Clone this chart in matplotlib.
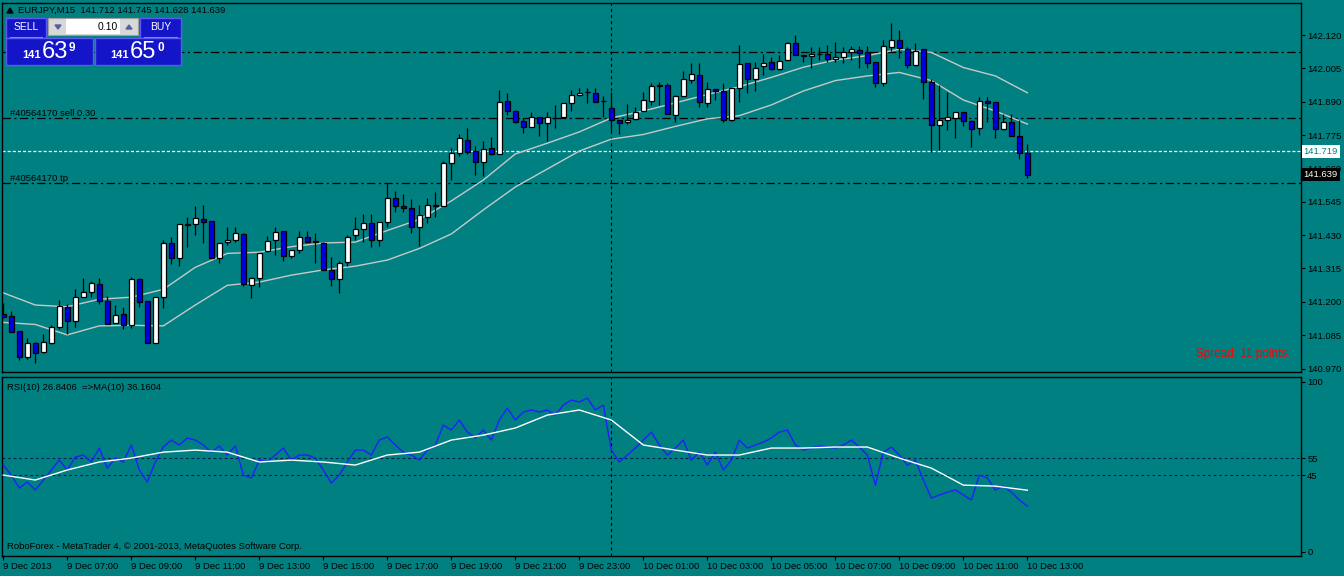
import matplotlib.pyplot as plt
from matplotlib.patches import Rectangle, Polygon

# ---- EURJPY M15, 9 Dec 05:00 .. 10 Dec 13:00 (129 bars) ----
opens = [141.158, 141.151, 141.099, 141.011, 141.057, 141.026, 141.059, 141.113, 141.183, 141.133,
         141.218, 141.233, 141.260, 141.202, 141.126, 141.157, 141.120, 141.278, 141.202, 141.057,
         141.216, 141.402, 141.350, 141.466, 141.467, 141.484, 141.478, 141.350, 141.405, 141.414,
         141.433, 141.257, 141.283, 141.376, 141.412, 141.443, 141.359, 141.378, 141.422, 141.409,
         141.404, 141.310, 141.280, 141.337, 141.429, 141.450, 141.471, 141.412, 141.474, 141.557,
         141.530, 141.522, 141.457, 141.493, 141.531, 141.531, 141.678, 141.712, 141.758, 141.720,
         141.683, 141.729, 141.709, 141.891, 141.859, 141.822, 141.802, 141.836, 141.816, 141.834,
         141.836, 141.885, 141.912, 141.922, 141.919, 141.893, 141.867, 141.827, 141.819, 141.829,
         141.859, 141.891, 141.945, 141.946, 141.843, 141.910, 141.964, 141.982, 141.886, 141.933,
         141.927, 141.827, 141.936, 142.022, 141.967, 142.013, 142.028, 142.002, 142.034, 142.091,
         142.050, 142.048, 142.055, 142.055, 142.036, 142.045, 142.062, 142.067, 142.062, 142.027,
         141.953, 142.080, 142.103, 142.071, 142.015, 142.071, 141.957, 141.809, 141.827, 141.835,
         141.853, 141.823, 141.798, 141.892, 141.888, 141.795, 141.819, 141.771, 141.712]
highs = [141.196, 141.168, 141.099, 141.076, 141.061, 141.088, 141.121, 141.206, 141.192, 141.244,
         141.283, 141.272, 141.281, 141.219, 141.189, 141.183, 141.284, 141.282, 141.202, 141.216,
         141.413, 141.424, 141.468, 141.491, 141.530, 141.534, 141.479, 141.403, 141.458, 141.458,
         141.436, 141.286, 141.368, 141.427, 141.457, 141.444, 141.379, 141.444, 141.444, 141.436,
         141.405, 141.353, 141.341, 141.430, 141.491, 141.503, 141.503, 141.475, 141.609, 141.582,
         141.571, 141.553, 141.534, 141.557, 141.578, 141.686, 141.729, 141.779, 141.798, 141.738,
         141.756, 141.767, 141.930, 141.919, 141.860, 141.833, 141.856, 141.837, 141.856, 141.879,
         141.885, 141.930, 141.936, 141.936, 141.936, 141.910, 141.922, 141.828, 141.882, 141.873,
         141.922, 141.953, 141.959, 141.953, 141.913, 141.996, 142.022, 142.022, 141.958, 141.934,
         141.953, 141.937, 142.086, 142.023, 142.028, 142.055, 142.045, 142.051, 142.096, 142.119,
         142.051, 142.080, 142.080, 142.086, 142.096, 142.080, 142.082, 142.082, 142.082, 142.028,
         142.103, 142.162, 142.137, 142.080, 142.091, 142.072, 141.967, 141.948, 141.924, 141.854,
         141.854, 141.827, 141.907, 141.907, 141.889, 141.847, 141.847, 141.827, 141.745]
lows = [141.144, 141.096, 140.999, 141.003, 140.988, 141.023, 141.054, 141.105, 141.089, 141.114,
        141.217, 141.216, 141.191, 141.122, 141.126, 141.105, 141.111, 141.181, 141.057, 141.057,
        141.180, 141.329, 141.325, 141.390, 141.430, 141.404, 141.350, 141.333, 141.395, 141.406,
        141.255, 141.214, 141.252, 141.373, 141.362, 141.342, 141.350, 141.369, 141.406, 141.333,
        141.310, 141.255, 141.231, 141.323, 141.413, 141.407, 141.390, 141.393, 141.457, 141.511,
        141.511, 141.438, 141.393, 141.473, 141.493, 141.531, 141.620, 141.703, 141.710, 141.637,
        141.634, 141.706, 141.709, 141.844, 141.816, 141.783, 141.802, 141.773, 141.755, 141.800,
        141.835, 141.859, 141.911, 141.885, 141.889, 141.838, 141.790, 141.779, 141.813, 141.827,
        141.858, 141.878, 141.879, 141.847, 141.821, 141.909, 141.953, 141.873, 141.873, 141.896,
        141.821, 141.824, 141.888, 141.921, 141.928, 141.982, 141.999, 142.001, 142.033, 142.050,
        142.028, 142.005, 142.034, 142.028, 142.028, 142.024, 142.034, 142.007, 142.007, 141.942,
        141.945, 142.066, 142.040, 142.005, 142.014, 141.899, 141.718, 141.723, 141.792, 141.764,
        141.806, 141.735, 141.775, 141.821, 141.766, 141.794, 141.773, 141.691, 141.628]
closes = [141.148, 141.097, 141.011, 141.057, 141.024, 141.060, 141.113, 141.184, 141.133, 141.218,
          141.233, 141.264, 141.202, 141.122, 141.153, 141.120, 141.278, 141.198, 141.057, 141.216,
          141.402, 141.350, 141.467, 141.467, 141.488, 141.476, 141.350, 141.402, 141.412, 141.436,
          141.260, 141.283, 141.367, 141.409, 141.440, 141.359, 141.378, 141.422, 141.407, 141.407,
          141.310, 141.280, 141.333, 141.424, 141.450, 141.471, 141.412, 141.474, 141.557, 141.530,
          141.522, 141.457, 141.498, 141.533, 141.533, 141.678, 141.712, 141.764, 141.718, 141.683,
          141.726, 141.709, 141.888, 141.859, 141.819, 141.804, 141.836, 141.816, 141.836, 141.834,
          141.885, 141.912, 141.919, 141.923, 141.890, 141.893, 141.827, 141.816, 141.827, 141.856,
          141.895, 141.944, 141.946, 141.847, 141.910, 141.967, 141.986, 141.888, 141.933, 141.926,
          141.827, 141.936, 142.019, 141.967, 142.007, 142.024, 142.002, 142.031, 142.091, 142.050,
          142.049, 142.055, 142.056, 142.036, 142.045, 142.062, 142.071, 142.058, 142.024, 141.953,
          142.082, 142.103, 142.074, 142.015, 142.064, 141.957, 141.809, 141.827, 141.836, 141.853,
          141.823, 141.795, 141.892, 141.885, 141.795, 141.819, 141.773, 141.712, 141.639]

# the two grey moving-average lines, read every 4 bars
ma_bars = list(range(0, 129, 4))
ma_upper = [141.231, 141.189, 141.183, 141.209, 141.216, 141.243, 141.319, 141.367, 141.371, 141.390,
            141.403, 141.406, 141.446, 141.484, 141.548, 141.620, 141.710, 141.747, 141.786, 141.834,
            141.858, 141.886, 141.915, 141.942, 141.974, 142.009, 142.034, 142.049, 142.071, 142.060,
            142.008, 141.979, 141.921]
ma_lower = [141.129, 141.122, 141.086, 141.117, 141.119, 141.117, 141.189, 141.257, 141.268, 141.292,
            141.310, 141.323, 141.344, 141.384, 141.434, 141.517, 141.596, 141.658, 141.720, 141.761,
            141.777, 141.805, 141.831, 141.842, 141.879, 141.927, 141.963, 141.979, 141.991, 141.963,
            141.896, 141.858, 141.813]

# RSI(10) per bar and its MA(10) read every 4 bars
rsi = [51.0, 45.1, 37.5, 41.0, 36.3, 42.2, 48.1, 53.9, 48.1, 55.7,
       56.9, 52.8, 61.0, 49.2, 55.1, 52.8, 62.8, 48.1, 41.0, 52.8,
       61.6, 65.7, 62.8, 66.9, 65.7, 62.8, 58.6, 62.2, 56.9, 62.2,
       45.1, 43.4, 53.9, 52.8, 56.9, 61.0, 53.9, 56.9, 56.9, 55.1,
       48.1, 40.4, 45.1, 52.8, 59.8, 59.8, 56.9, 65.7, 67.5, 62.8,
       58.6, 56.9, 53.9, 59.8, 62.8, 74.5, 71.6, 77.5, 70.4, 66.9,
       71.6, 65.7, 77.5, 84.5, 77.5, 82.2, 83.4, 82.2, 83.4, 80.4,
       86.3, 89.2, 88.1, 90.4, 83.4, 86.3, 59.8, 52.8, 56.9, 61.0,
       65.7, 70.4, 62.8, 56.9, 61.0, 65.7, 53.9, 58.6, 51.0, 58.6,
       48.1, 53.9, 65.7, 61.0, 62.8, 64.5, 66.9, 70.4, 71.6, 62.8,
       59.8, 61.0, 62.2, 61.6, 61.0, 62.8, 65.7, 61.6, 56.9, 39.2,
       58.6, 61.6, 56.9, 51.0, 53.9, 42.2, 31.6, 33.4, 35.1, 36.3,
       33.4, 30.4, 45.1, 43.4, 36.3, 38.6, 35.1, 30.4, 26.8]
rsi_ma = [45.1, 42.2, 48.1, 52.8, 55.1, 58.6, 59.8, 58.6, 52.8, 53.9,
          52.8, 51.0, 56.9, 58.6, 65.7, 68.6, 72.8, 80.4, 83.4, 77.5,
          62.8, 59.8, 56.9, 56.9, 61.0, 61.0, 61.6, 61.6, 55.1, 49.2,
          39.2, 38.6, 36.2]

time_bars = list(range(0, 129, 8))
time_labels = ['9 Dec 2013', '9 Dec 07:00', '9 Dec 09:00', '9 Dec 11:00', '9 Dec 13:00',
               '9 Dec 15:00', '9 Dec 17:00', '9 Dec 19:00', '9 Dec 21:00', '9 Dec 23:00',
               '10 Dec 01:00', '10 Dec 03:00', '10 Dec 05:00', '10 Dec 07:00', '10 Dec 09:00',
               '10 Dec 11:00', '10 Dec 13:00']
price_ticks = [140.970, 141.085, 141.200, 141.315, 141.430, 141.545, 141.660,
               141.775, 141.890, 142.005, 142.120]
order_lines = [142.060, 141.833, 141.609]   # dash-dot order levels
marker_line = 141.719
day_sep = 76                                 # 10 Dec 00:00

plt.rcParams['font.family'] = ['Liberation Sans', 'DejaVu Sans']
plt.rcParams['lines.scale_dashes'] = False

BG = '#008080'
W, H = 1344, 576
FS = 6.8


def rect(x0, y0, x1, y1):
    # pixel box (origin top-left) -> figure fraction
    return [x0 / W, 1 - y1 / H, (x1 - x0) / W, (y1 - y0) / H]


fig = plt.figure(figsize=(W / 100, H / 100), dpi=100, facecolor=BG)
ax = fig.add_axes(rect(2, 3, 1301, 372))
ax2 = fig.add_axes(rect(2, 377, 1301, 556))

for a in (ax, ax2):
    a.set_facecolor(BG)
    for s in a.spines.values():
        s.set_color('black')
        s.set_linewidth(1.0)
    a.set_xlim(-0.16, 162.2)
    a.yaxis.tick_right()
    a.tick_params(axis='y', direction='out', length=3, width=0.8, pad=1.5,
                  labelsize=FS, colors='black')

# ---- main chart ----
n = len(closes)
bars = list(range(n))
ax.vlines(bars, lows, highs, color='black', linewidth=0.9, zorder=3)
bottoms = [min(o, c) for o, c in zip(opens, closes)]
heights = [abs(c - o) for o, c in zip(opens, closes)]
fills = ['white' if c >= o else '#0000E8' for o, c in zip(opens, closes)]
ax.bar(bars, heights, bottom=bottoms, width=0.62, color=fills,
       edgecolor='black', linewidth=0.9, zorder=4)

ax.plot(ma_bars, ma_upper, color='#C8C8C8', linewidth=1.0, zorder=2)
ax.plot(ma_bars, ma_lower, color='#C8C8C8', linewidth=1.0, zorder=2)

for lv in order_lines:
    ax.axhline(lv, color='black', linewidth=0.9, linestyle=(0, (6, 2.5, 1.5, 2.5)), zorder=1)
ax.axhline(marker_line, color='white', linewidth=0.9, linestyle=(0, (2.2, 1.5)), zorder=1)
ax.axvline(day_sep, color='black', linewidth=0.8, linestyle=(0, (2.2, 2.2)), zorder=1)

ax.set_ylim(140.958, 142.2305)
ax.set_yticks(price_ticks)
ax.set_yticklabels(['%.3f' % p for p in price_ticks])
ax.tick_params(axis='x', bottom=False, labelbottom=False)

ax.text(1.002, marker_line, '%.3f' % marker_line, transform=ax.get_yaxis_transform(),
        ha='left', va='center', fontsize=FS, color=BG, zorder=10, clip_on=False,
        bbox=dict(boxstyle='square,pad=0.2', fc='white', ec='none'))
ax.text(1.002, closes[-1], '%.3f' % closes[-1], transform=ax.get_yaxis_transform(),
        ha='left', va='center', fontsize=FS, color='white', zorder=10, clip_on=False,
        bbox=dict(boxstyle='square,pad=0.2', fc='black', ec='none'))

ax.text(0.006, order_lines[1], '#40564170 sell 0.30', transform=ax.get_yaxis_transform(),
        ha='left', va='bottom', fontsize=FS, color='black')
ax.text(0.006, order_lines[2], '#40564170 tp', transform=ax.get_yaxis_transform(),
        ha='left', va='bottom', fontsize=FS, color='black')
ax.text(0.992, 0.048, 'Spread: 11 points.', transform=ax.transAxes, ha='right',
        va='center', fontsize=8.5, color='#FF0000')

# ---- RSI window ----
ax2.plot(bars, rsi, color='#2020FF', linewidth=1.0, zorder=3)
ax2.plot(ma_bars, rsi_ma, color='white', linewidth=1.0, zorder=4)
ax2.axhline(55, color='#002050', linewidth=0.8, linestyle=(0, (2, 2)), zorder=1)
ax2.axhline(45, color='#0000FF', linewidth=0.8, linestyle=(0, (2, 2)), zorder=1)
ax2.axvline(day_sep, color='black', linewidth=0.8, linestyle=(0, (2.2, 2.2)), zorder=1)
ax2.set_ylim(-2.5, 102.8)
ax2.set_yticks([0, 45, 55, 100])
ax2.set_yticklabels(['0', '45', '55', '100'])
ax2.set_xticks(time_bars)
ax2.set_xticklabels(time_labels)
ax2.tick_params(axis='x', direction='out', length=3, width=0.8, pad=1.5,
                labelsize=FS, colors='black')
for lb in ax2.get_xticklabels():
    lb.set_ha('left')
ax2.text(0.004, 0.965, 'RSI(10) 26.8406  =>MA(10) 36.1604', transform=ax2.transAxes,
         ha='left', va='top', fontsize=FS, color='black')
ax2.text(0.004, 0.03, 'RoboForex - MetaTrader 4, \u00a9 2001-2013, MetaQuotes Software Corp.',
         transform=ax2.transAxes, ha='left', va='bottom', fontsize=FS, color='black')

# ---- overlay: symbol header and one-click trading panel ----
ov = fig.add_axes([0, 0, 1, 1], zorder=20)
ov.set_xlim(0, W)
ov.set_ylim(H, 0)
ov.axis('off')
ov.patch.set_alpha(0)

ov.add_patch(Polygon([[7, 13], [13, 13], [10, 8]], closed=True, color='black'))
ov.text(18, 10.5, 'EURJPY,M15  141.712 141.745 141.628 141.639', ha='left',
        va='center', fontsize=FS, color='black')

blue = '#1414C8'
edge = '#5A5AF0'
for x0, y0, x1, y1 in [(6, 18, 46, 38), (140, 18, 181, 38), (6, 38, 93, 65), (95, 38, 181, 65)]:
    ov.add_patch(Rectangle((x0, y0), x1 - x0, y1 - y0, fc=blue, ec=edge, lw=1.0))
ov.plot([10, 42], [36.5, 36.5], color='#8080FF', lw=0.8)
ov.plot([144, 177], [36.5, 36.5], color='#8080FF', lw=0.8)
ov.add_patch(Rectangle((48, 18), 90, 17, fc='#D8D8D8', ec='#A0A0A0', lw=0.8))
ov.add_patch(Rectangle((66, 19), 54, 15, fc='white', ec='none'))
ov.add_patch(Polygon([[55, 25], [61, 25], [58, 29]], closed=True, color='#5060A0'))
ov.add_patch(Polygon([[126, 29], [132, 29], [129, 25]], closed=True, color='#5060A0'))
ov.text(26, 27.5, 'SELL', ha='center', va='center', fontsize=7.5, color='white')
ov.text(160.5, 27.5, 'BUY', ha='center', va='center', fontsize=7.5, color='white')
ov.text(118, 27, '0.10', ha='right', va='center', fontsize=7.5, color='black')
for bx, big, small in [(22, '63', '9'), (110, '65', '0')]:
    ov.text(bx, 57.5, '141', ha='left', va='baseline', fontsize=8, color='white', fontweight='bold')
    ov.text(bx + 20, 58, big, ha='left', va='baseline', fontsize=17, color='white')
    ov.text(bx + 47, 51, small, ha='left', va='baseline', fontsize=8.5, color='white', fontweight='bold')

fig.savefig('out.png', dpi=100, facecolor=BG)
